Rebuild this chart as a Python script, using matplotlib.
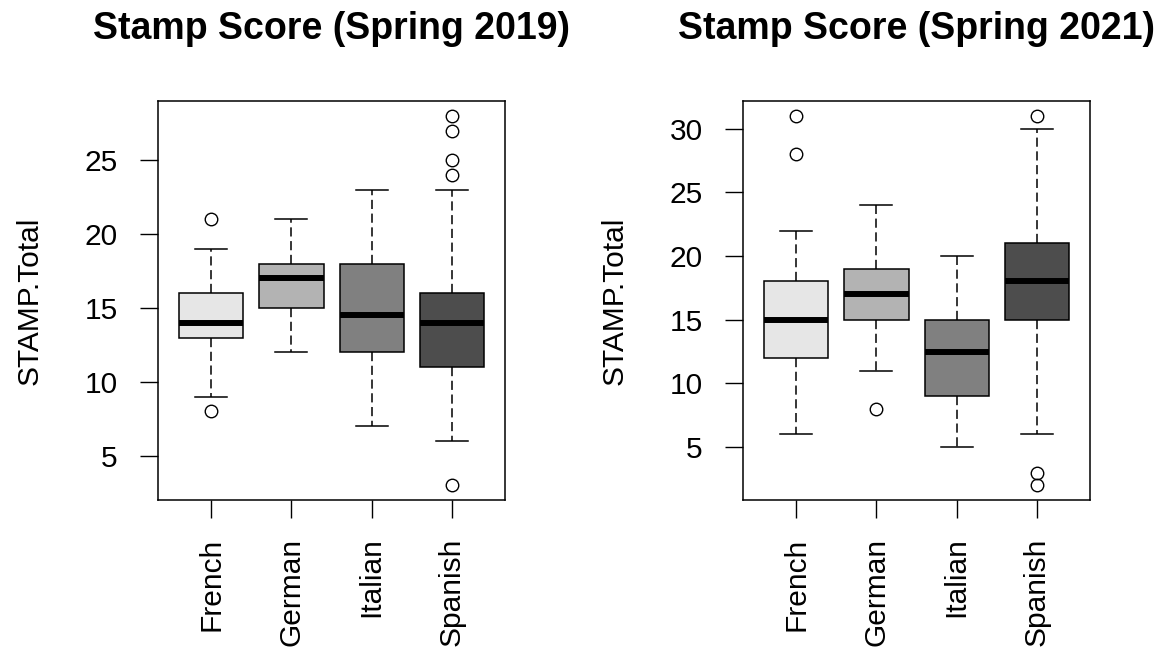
import matplotlib
matplotlib.use("Agg")
import matplotlib.pyplot as plt

plt.rcParams['font.family'] = ['Liberation Sans', 'DejaVu Sans']

languages = ['French', 'German', 'Italian', 'Spanish']
fills = ['#e6e6e6', '#b3b3b3', '#808080', '#4d4d4d']

# Spring 2019 box statistics
med_2019 = [14, 17, 14.5, 14]
q1_2019 = [13, 15, 12, 11]
q3_2019 = [16, 18, 18, 16]
lo_2019 = [9, 12, 7, 6]
hi_2019 = [19, 21, 23, 23]
out_2019 = [[21, 8], [], [], [28, 27, 25, 24, 3]]

# Spring 2021 box statistics
med_2021 = [15, 17, 12.5, 18]
q1_2021 = [12, 15, 9, 15]
q3_2021 = [18, 19, 15, 21]
lo_2021 = [6, 11, 5, 6]
hi_2021 = [22, 24, 20, 30]
out_2021 = [[31, 28], [8], [], [31, 3, 2]]


def make_stats(med, q1, q3, lo, hi, out):
    stats = []
    for i in range(len(med)):
        stats.append(dict(med=med[i], q1=q1[i], q3=q3[i],
                          whislo=lo[i], whishi=hi[i], fliers=out[i]))
    return stats


fig = plt.figure(figsize=(11.63, 6.55), dpi=100)
ax1 = fig.add_axes([0.1359, 0.2366, 0.2984, 0.609])
ax2 = fig.add_axes([0.6389, 0.2366, 0.2984, 0.609])

panels = [
    (ax1, make_stats(med_2019, q1_2019, q3_2019, lo_2019, hi_2019, out_2019),
     'Stamp Score (Spring 2019)', [5, 10, 15, 20, 25], (2, 29)),
    (ax2, make_stats(med_2021, q1_2021, q3_2021, lo_2021, hi_2021, out_2021),
     'Stamp Score (Spring 2021)', [5, 10, 15, 20, 25, 30], (0.84, 32.16)),
]

for ax, stats, title, yticks, ylim in panels:
    bp = ax.bxp(stats, positions=[1, 2, 3, 4], widths=0.8, capwidths=0.4,
                patch_artist=True, showfliers=True,
                boxprops=dict(edgecolor='black', linewidth=1.1),
                whiskerprops=dict(color='black', linewidth=1.1, linestyle=(0, (6, 3))),
                capprops=dict(color='black', linewidth=1.1),
                medianprops=dict(color='black', linewidth=4.3, solid_capstyle='butt'),
                flierprops=dict(marker='o', markerfacecolor='none',
                                markeredgecolor='black', markersize=9,
                                markeredgewidth=1.0, linestyle='none'))
    for patch, c in zip(bp['boxes'], fills):
        patch.set_facecolor(c)
    ax.set_xlim(0.34, 4.66)
    ax.set_ylim(*ylim)
    ax.set_yticks(yticks)
    ax.set_xticks([1, 2, 3, 4])
    ax.set_xticklabels(languages, rotation=90)
    ax.tick_params(axis='both', labelsize=21.5, length=13, width=1.0)
    ax.tick_params(axis='y', pad=16)
    ax.tick_params(axis='x', pad=14)
    ax.set_ylabel('STAMP.Total', fontsize=21.5)
    ax.yaxis.set_label_coords(-0.331, 0.5)
    ax.set_title(title, fontsize=27, fontweight='bold', pad=45)
    for s in ax.spines.values():
        s.set_linewidth(1.1)

fig.savefig('out.png', dpi=100)
